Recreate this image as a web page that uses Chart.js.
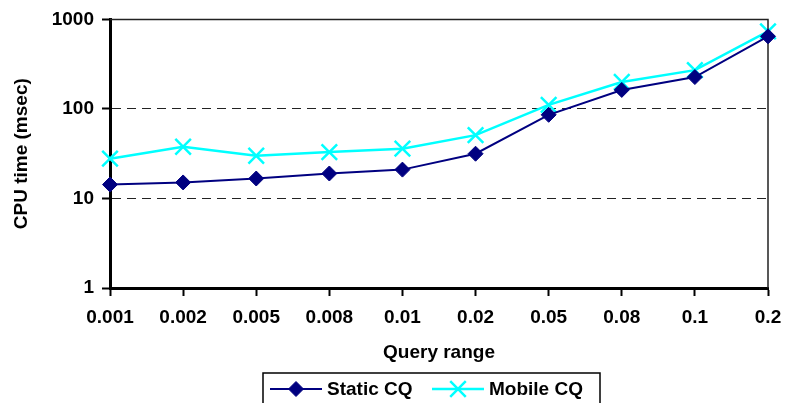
<!DOCTYPE html>
<html>
<head>
<meta charset="utf-8">
<script src="https://cdn.jsdelivr.net/npm/chart.js@4"></script>
<style>
  html, body { margin: 0; padding: 0; background: #fff; }
  #wrap { width: 785px; height: 403px; }
</style>
</head>
<body>
<div id="wrap"><canvas id="cpuChart"></canvas></div>
<script>
const queryRanges = ['0.001', '0.002', '0.005', '0.008', '0.01', '0.02', '0.05', '0.08', '0.1', '0.2'];
const staticCQ = [14.3, 15.1, 16.7, 19, 21, 31.6, 86, 163, 227, 647];
const mobileCQ = [27.8, 37.8, 30, 33, 36, 51, 111, 200, 271, 735];
const yTicks = [1, 10, 100, 1000];

const FONT = "'Liberation Sans', Arial, sans-serif";
const FSIZE = 19;

// frame on the top and right side of the plot
const framePlugin = {
  id: 'frame',
  beforeDatasetsDraw(chart) {
    const {ctx, chartArea: a} = chart;
    ctx.save();
    ctx.strokeStyle = '#222';
    ctx.lineWidth = 1.5;
    ctx.beginPath();
    ctx.moveTo(a.left, a.top);
    ctx.lineTo(a.right, a.top);
    ctx.lineTo(a.right, a.bottom);
    ctx.stroke();
    ctx.restore();
  }
};

// boxed legend with line + marker, cut off at the bottom like the original
const boxLegend = {
  id: 'boxLegend',
  afterDraw(chart) {
    const ctx = chart.ctx;
    const items = [
      {ds: chart.data.datasets[0], x: 270},
      {ds: chart.data.datasets[1], x: 432}
    ];
    const y = 389;
    ctx.save();
    ctx.strokeStyle = '#000';
    ctx.lineWidth = 1.5;
    ctx.strokeRect(263, 373, 337, 40);
    ctx.font = 'bold ' + FSIZE + 'px ' + FONT;
    ctx.textBaseline = 'middle';
    items.forEach(it => {
      const ds = it.ds;
      ctx.strokeStyle = ds.borderColor;
      ctx.lineWidth = ds.borderWidth;
      ctx.beginPath();
      ctx.moveTo(it.x, y);
      ctx.lineTo(it.x + 52, y);
      ctx.stroke();
      ctx.save();
      ctx.fillStyle = ds.pointBackgroundColor || ds.backgroundColor;
      ctx.strokeStyle = ds.pointBorderColor;
      ctx.lineWidth = ds.pointBorderWidth;
      Chart.helpers.drawPoint(ctx, {
        pointStyle: ds.pointStyle,
        radius: ds.pointRadius,
        borderWidth: ds.pointBorderWidth
      }, it.x + 26, y);
      ctx.restore();
      ctx.fillStyle = '#000';
      ctx.fillText(ds.label, it.x + 57, y + 1);
    });
    ctx.restore();
  }
};

const config = {
  type: 'line',
  data: {
    labels: queryRanges,
    datasets: [
      {
        label: 'Static CQ',
        data: staticCQ,
        borderColor: '#000080',
        backgroundColor: '#000080',
        borderWidth: 2,
        pointStyle: 'rectRot',
        pointRadius: 7.5,
        pointBorderWidth: 1,
        pointBackgroundColor: '#000080',
        pointBorderColor: '#000080',
        tension: 0
      },
      {
        label: 'Mobile CQ',
        data: mobileCQ,
        borderColor: '#00FFFF',
        backgroundColor: '#00FFFF',
        borderWidth: 2.5,
        pointStyle: 'crossRot',
        pointRadius: 11,
        pointBorderWidth: 2.5,
        pointBorderColor: '#00FFFF',
        tension: 0
      }
    ]
  },
  options: {
    responsive: false,
    animation: false,
    clip: false,
    layout: { padding: { top: 18, right: 17, bottom: 35, left: 0 } },
    plugins: {
      legend: { display: false },
      tooltip: { enabled: false }
    },
    scales: {
      x: {
        type: 'category',
        offset: false,
        grid: {
          drawOnChartArea: false,
          tickLength: 8,
          tickColor: '#000',
          tickWidth: 2
        },
        border: { color: '#000', width: 3 },
        ticks: {
          color: '#000',
          padding: 10,
          maxRotation: 0,
          autoSkip: false,
          font: { family: FONT, size: FSIZE, weight: 'bold' }
        },
        title: {
          display: true,
          text: 'Query range',
          color: '#000',
          padding: { top: 4, bottom: 4 },
          font: { family: FONT, size: FSIZE, weight: 'bold' }
        },
        afterFit(scale) {
          scale.height = 80;
          scale.paddingLeft = 0;
          scale.paddingRight = 0;
        }
      },
      y: {
        type: 'logarithmic',
        min: 1,
        max: 1000,
        afterBuildTicks(scale) {
          scale.ticks = yTicks.map(v => ({ value: v }));
        },
        grid: {
          color: ctx => (ctx.tick && (ctx.tick.value === 10 || ctx.tick.value === 100)) ? '#222' : 'rgba(0,0,0,0)',
          lineWidth: 1,
          tickLength: 8,
          tickColor: '#000',
          tickWidth: 2,
          tickBorderDash: []
        },
        border: { color: '#000', width: 3, dash: [9, 6] },
        ticks: {
          color: '#000',
          padding: 8,
          font: { family: FONT, size: FSIZE, weight: 'bold' },
          callback: v => String(v)
        },
        title: {
          display: true,
          text: 'CPU time (msec)',
          color: '#000',
          padding: { top: 10, bottom: 4 },
          font: { family: FONT, size: FSIZE, weight: 'bold' }
        },
        afterFit(scale) { scale.width = 110; }
      }
    }
  },
  plugins: [framePlugin, boxLegend]
};

const canvas = document.getElementById('cpuChart');
canvas.width = 785;
canvas.height = 403;
new Chart(canvas, config);
</script>
</body>
</html>
